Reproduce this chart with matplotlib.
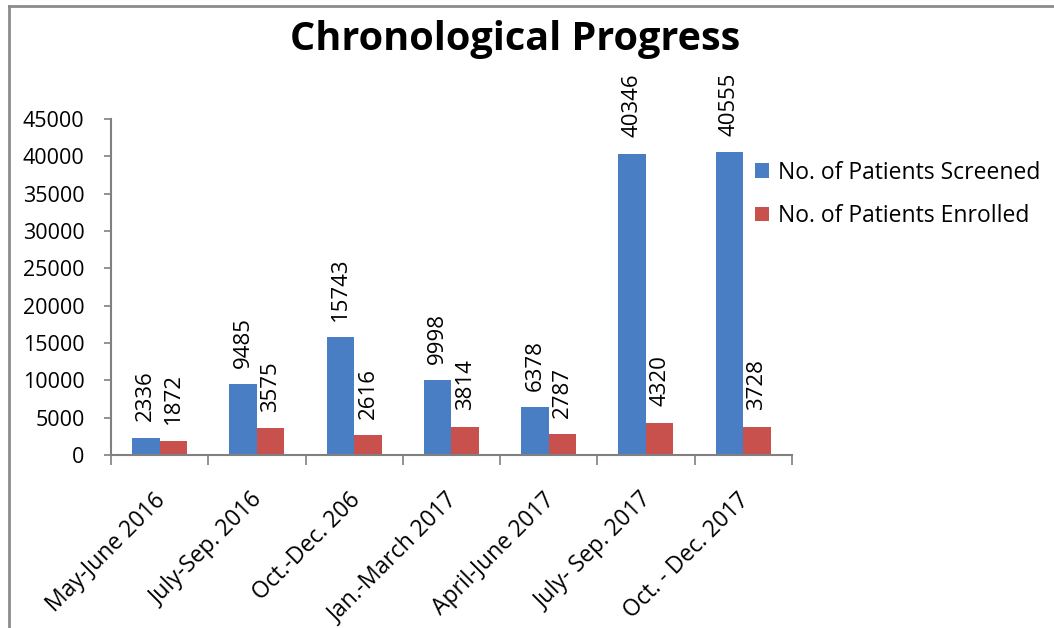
import numpy as np
import matplotlib
matplotlib.use("Agg")
import matplotlib.pyplot as plt
from matplotlib.lines import Line2D
from matplotlib.transforms import ScaledTranslation

plt.rcParams['font.family'] = ['Open Sans', 'DejaVu Sans']

periods = ["May-June 2016", "July-Sep. 2016", "Oct.-Dec. 206", "Jan.-March 2017",
           "April-June 2017", "July- Sep. 2017", "Oct. - Dec. 2017"]
screened = [2336, 9485, 15743, 9998, 6378, 40346, 40555]
enrolled = [1872, 3575, 2616, 3814, 2787, 4320, 3728]

blue = "#4A7EC4"
red = "#C8504D"
axis_grey = "#808080"

fig = plt.figure(figsize=(10.54, 6.28), dpi=100)
ax = fig.add_axes([0.1053, 0.2755, 0.646, 0.535])

x = np.arange(len(periods))
w = 0.283
b1 = ax.bar(x - w / 2, screened, w, color=blue, label="No. of Patients Screened")
b2 = ax.bar(x + w / 2, enrolled, w, color=red, label="No. of Patients Enrolled")

# value labels, rotated like the original
for bars in (b1, b2):
    for rect in bars:
        h = rect.get_height()
        ax.annotate(f"{int(h)}", (rect.get_x() + rect.get_width() / 2, h),
                    xytext=(0, 12), textcoords="offset points",
                    rotation=90, ha="center", va="bottom", fontsize=16)

ax.set_xlim(-0.5, len(periods) - 0.5)
ax.set_ylim(0, 45000)
ax.set_yticks(np.arange(0, 45001, 5000))
ax.tick_params(axis="y", labelsize=15.5, length=5, color=axis_grey, width=1.2, pad=14)

# category labels at centres, tick marks at boundaries
ax.set_xticks(x)
ax.set_xticklabels(periods, rotation=45, ha="right", rotation_mode="anchor", fontsize=16.5)
ax.tick_params(axis="x", length=0, pad=24)
shift = ScaledTranslation(-6 / 100, 0, fig.dpi_scale_trans)
for lbl in ax.get_xticklabels():
    lbl.set_transform(lbl.get_transform() + shift)
ax.set_xticks(np.arange(-0.5, len(periods)), minor=True)
ax.tick_params(axis="x", which="minor", length=7, color=axis_grey, width=1.2)

for s in ("top", "right"):
    ax.spines[s].set_visible(False)
for s in ("left", "bottom"):
    ax.spines[s].set_color(axis_grey)
    ax.spines[s].set_linewidth(1.5)

fig.text(0.489, 0.937, "Chronological Progress", ha="center", va="center",
         fontsize=28.5, fontweight="bold")

ax.legend(loc="upper left", bbox_to_anchor=(0.697, 0.777), bbox_transform=fig.transFigure,
          frameon=False, fontsize=16.5, handlelength=0.6, handleheight=0.6,
          handletextpad=0.4, labelspacing=0.85)

# grey frame on left and top of the picture
fig.add_artist(Line2D([0.0085, 0.0085], [0, 0.99], color="#8c8c8c", lw=2))
fig.add_artist(Line2D([0.0085, 1], [0.99, 0.99], color="#8c8c8c", lw=2))

fig.savefig("out.png", dpi=100)
